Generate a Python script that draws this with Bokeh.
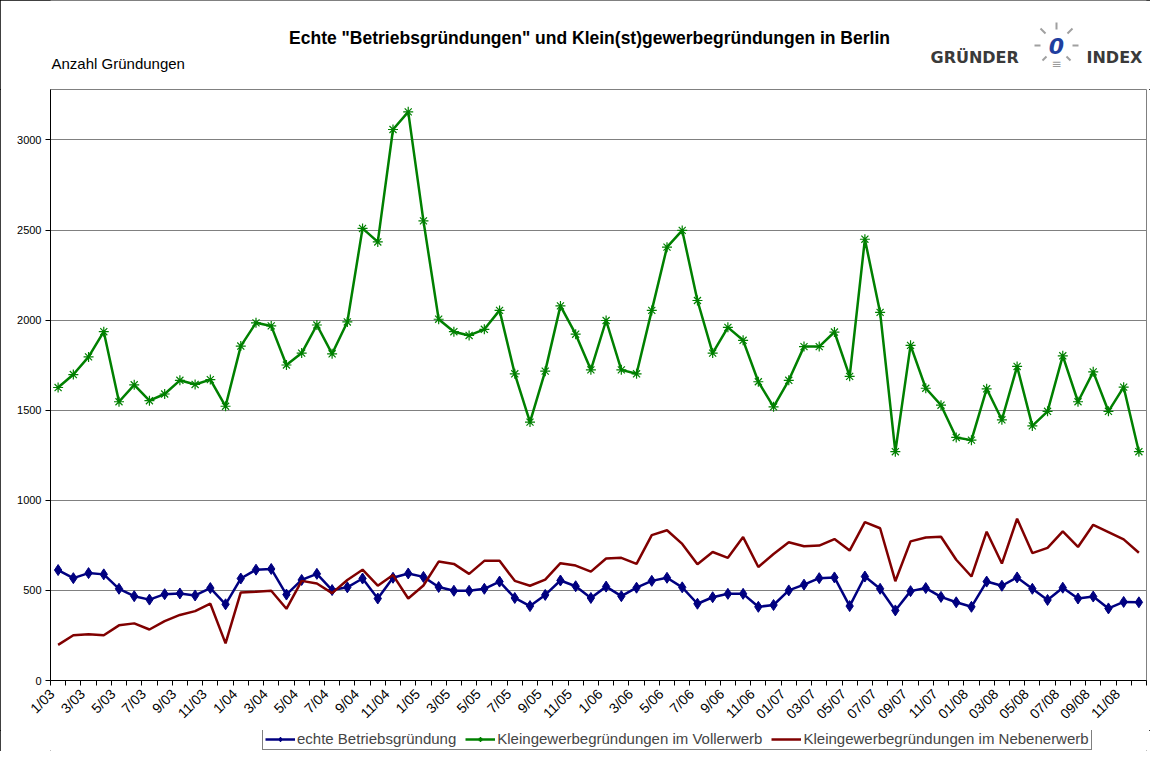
from math import pi
from bokeh.plotting import figure
from bokeh.layouts import column
from bokeh.models import Range1d, FixedTicker, Label, Legend, LegendItem, ColumnDataSource
from bokeh.embed import file_html
from bokeh.resources import INLINE

# ---- data -------------------------------------------------------------
tick_labels = ["1/03", "3/03", "5/03", "7/03", "9/03", "11/03",
               "1/04", "3/04", "5/04", "7/04", "9/04", "11/04",
               "1/05", "3/05", "5/05", "7/05", "9/05", "11/05",
               "1/06", "3/06", "5/06", "7/06", "9/06", "11/06",
               "01/07", "03/07", "05/07", "07/07", "09/07", "11/07",
               "01/08", "03/08", "05/08", "07/08", "09/08", "11/08"]

echte = [613, 568, 596, 589, 509, 468, 449, 479, 483, 472, 513, 423,
         566, 615, 619, 477, 558, 592, 502, 517, 566, 455, 570, 594,
         575, 519, 498, 498, 509, 549, 458, 413, 475, 555, 523, 458,
         521, 468, 515, 553, 570, 517, 426, 462, 481, 481, 409, 419,
         500, 532, 568, 572, 413, 577, 509, 389, 496, 513, 464, 434,
         409, 549, 526, 572, 509, 447, 515, 455, 466, 400, 436, 434]

voll = [1626, 1698, 1796, 1936, 1547, 1641, 1553, 1590, 1666, 1643, 1670, 1522,
        1856, 1985, 1968, 1751, 1817, 1973, 1813, 1990, 2509, 2434, 3058, 3156,
        2551, 2005, 1936, 1915, 1949, 2054, 1702, 1434, 1717, 2079, 1922, 1724,
        1998, 1724, 1702, 2054, 2405, 2498, 2109, 1817, 1960, 1888, 1658, 1519,
        1666, 1853, 1853, 1934, 1688, 2449, 2043, 1270, 1860, 1622, 1528, 1349,
        1334, 1619, 1447, 1743, 1413, 1494, 1802, 1547, 1713, 1494, 1628, 1270]

neben = [198, 251, 257, 251, 306, 317, 283, 330, 364, 385, 426, 206,
         489, 493, 498, 398, 553, 538, 485, 558, 615, 526, 585, 455,
         527, 660, 647, 592, 664, 664, 553, 526, 560, 651, 638, 604,
         677, 681, 647, 807, 834, 758, 645, 713, 681, 796, 630, 702,
         767, 745, 749, 785, 721, 879, 845, 551, 772, 794, 798, 670,
         577, 826, 649, 898, 707, 736, 828, 741, 864, 824, 783, 709]

series_names = ["echte Betriebsgründung",
                "Kleingewerbegründungen im Vollerwerb",
                "Kleingewerbegründungen im Nebenerwerb"]
y_ticks = [0, 500, 1000, 1500, 2000, 2500, 3000]

title_text = 'Echte "Betriebsgründungen" und Klein(st)gewerbegründungen in Berlin'
y_caption = "Anzahl Gründungen"
logo_left, logo_right = "GRÜNDER", "INDEX"

# ---- styling constants ------------------------------------------------
FONT = "Liberation Sans"
W = 1150
FL, FR = 50, 1146                      # frame left / right in canvas px
H_HEAD, H_MAIN, H_FOOT = 89, 641, 21
BLUE, GREEN, RED = "#000080", "#008000", "#800000"

# ---- header (title, caption, logo) -------------------------------------
# the column aligns this frame with the chart frame, so the x range is set to
# canvas pixels (FL..FR) and the y range to pixels from the top
head = figure(width=W, height=H_HEAD, output_backend="svg", toolbar_location=None,
              x_range=Range1d(FL, FR), y_range=Range1d(H_HEAD, 0),
              x_axis_location=None, y_axis_location=None, min_border=0)
head.grid.visible = False
head.outline_line_color = None
head.title.visible = False


def hlabel(x, y, text, size, bold=False, color="black", align="left",
           font=FONT, italic=False):
    style = "bold" if bold else "normal"
    if italic:
        style = "bold italic" if bold else "italic"
    head.add_layout(Label(x=x, y=y, text=text, text_font=font, text_font_size=size,
                          text_font_style=style, text_color=color, text_align=align,
                          text_baseline="middle"))


hlabel(589, 37, title_text, "17.5px", bold=True, align="center")
hlabel(FL + 1, 63, y_caption, "15px")
hlabel(930, 57, logo_left, "16px", bold=True, color="#3a3a3a", font="DejaVu Sans")
hlabel(1086, 57, logo_right, "16px", bold=True, color="#3a3a3a", font="DejaVu Sans")
hlabel(1056, 45, "0", "22px", bold=True, italic=True, color="#1f3f9f",
       align="center", font="DejaVu Sans")
hlabel(1056, 63, "≡", "12px", color="#9a9a9a", align="center", font="DejaVu Sans")
# light rays of the logo bulb
head.segment(x0=[1056, 1040, 1072, 1034, 1078, 1042, 1070],
             y0=[22, 28, 28, 45, 45, 60, 60],
             x1=[1056, 1045, 1067, 1040, 1072, 1046, 1066],
             y1=[29, 33, 33, 45, 45, 56, 56],
             line_color="#a0a0a0", line_width=2)

# ---- main chart ---------------------------------------------------------
n = len(echte)
xs = list(range(1, n + 1))
src = ColumnDataSource(dict(x=xs, echte=echte, voll=voll, neben=neben))

p = figure(width=W, height=H_MAIN, output_backend="svg", toolbar_location=None,
           x_range=Range1d(0.5, n + 0.5), y_range=Range1d(0, 3280),
           min_border_left=FL, min_border_right=W - FR, min_border_top=0,
           min_border_bottom=H_MAIN - 591)
p.title.visible = False
p.outline_line_color = "#808080"
p.outline_line_width = 1
p.background_fill_color = "white"
p.border_fill_color = "white"

p.xgrid.grid_line_color = None
p.ygrid.grid_line_color = "#808080"
p.ygrid.grid_line_width = 1

p.yaxis.ticker = FixedTicker(ticks=y_ticks)
p.yaxis.axis_line_color = "black"
p.yaxis.major_tick_in = 0
p.yaxis.major_tick_out = 5
p.yaxis.minor_tick_line_color = None
p.yaxis.major_label_text_font = FONT
p.yaxis.major_label_text_font_size = "11px"
p.yaxis.major_label_text_color = "black"
p.yaxis.major_label_standoff = 4

# labels sit slightly left of their month (rotated text ends before the tick)
label_pos = [2 * i + 0.6 for i in range(len(tick_labels))]
p.xaxis.ticker = FixedTicker(ticks=label_pos,
                             minor_ticks=[i + 0.5 for i in range(n + 1)])
p.xaxis.major_label_overrides = {pos: lab for pos, lab in zip(label_pos, tick_labels)}
p.xaxis.major_tick_line_color = None
p.xaxis.major_tick_in = 0
p.xaxis.major_tick_out = 5
p.xaxis.minor_tick_in = 0
p.xaxis.minor_tick_out = 5
p.xaxis.minor_tick_line_color = "black"
p.xaxis.axis_line_color = "black"
p.xaxis.major_label_orientation = pi / 4
p.xaxis.major_label_text_font = FONT
p.xaxis.major_label_text_font_size = "14px"
p.xaxis.major_label_text_color = "black"
p.xaxis.major_label_standoff = 6

p.line("x", "echte", source=src, line_color=BLUE, line_width=2.5)
p.scatter("x", "echte", source=src, marker="diamond", size=11,
          fill_color=BLUE, line_color=BLUE)
p.line("x", "voll", source=src, line_color=GREEN, line_width=2.5)
p.scatter("x", "voll", source=src, marker="asterisk", size=10,
          line_color=GREEN, line_width=1.2)
p.line("x", "neben", source=src, line_color=RED, line_width=2.5)

# ---- footer with legend --------------------------------------------------
foot = figure(width=W, height=H_FOOT, output_backend="svg", toolbar_location=None,
              x_range=Range1d(0, 1), y_range=Range1d(0, 1),
              x_axis_location=None, y_axis_location=None, min_border=0)
foot.grid.visible = False
foot.outline_line_color = None
foot.title.visible = False
# legend proxies: same styles as the chart series, holding no visible point
proxy = ColumnDataSource(dict(x=[float("nan")], y=[float("nan")]))
l1 = foot.line("x", "y", source=proxy, line_color=BLUE, line_width=2.5)
m1 = foot.scatter("x", "y", source=proxy, marker="diamond", size=10,
                  fill_color=BLUE, line_color=BLUE)
l2 = foot.line("x", "y", source=proxy, line_color=GREEN, line_width=2.5)
m2 = foot.scatter("x", "y", source=proxy, marker="asterisk", size=10,
                  line_color=GREEN, line_width=1.2)
l3 = foot.line("x", "y", source=proxy, line_color=RED, line_width=2.5)

legend = Legend(items=[LegendItem(label=series_names[0], renderers=[l1, m1]),
                       LegendItem(label=series_names[1], renderers=[l2, m2]),
                       LegendItem(label=series_names[2], renderers=[l3])],
                orientation="horizontal", location=(262 - FL, 1),
                label_text_font=FONT, label_text_font_size="15px",
                label_height=15, glyph_width=30, glyph_height=12,
                label_standoff=2, spacing=9, padding=2, margin=0,
                border_line_color="black", border_line_width=1,
                background_fill_color="white", background_fill_alpha=1)
foot.add_layout(legend, "center")

layout = column(head, p, foot, spacing=0)
layout.styles = {"outline": "1px solid black", "outline-offset": "-1px"}

open("out.html", "w").write(file_html(layout, INLINE))
